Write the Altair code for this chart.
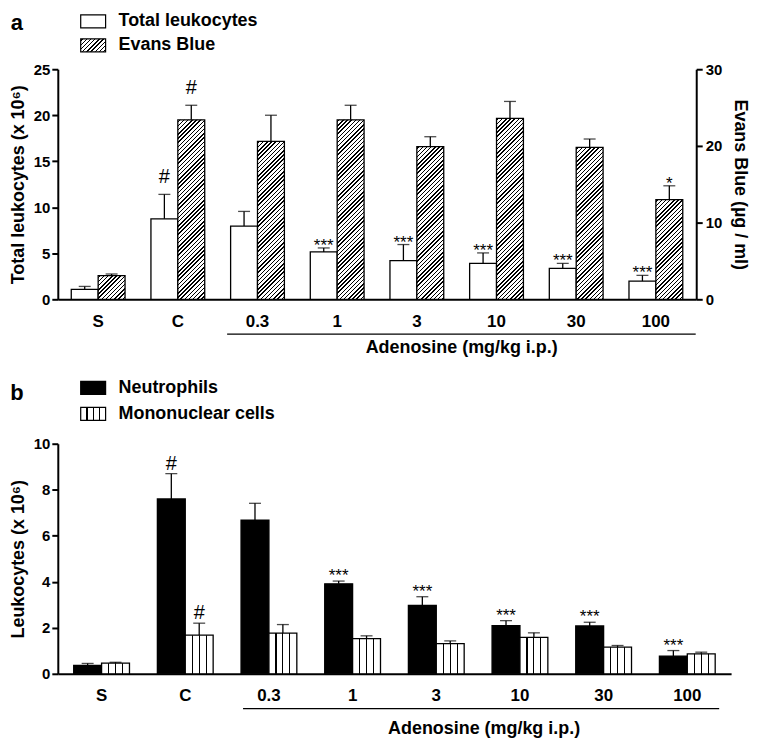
import altair as alt
import pandas as pd

# ---------------- data ----------------
groups = ["S", "C", "0.3", "1", "3", "10", "30", "100"]
dose_title = "Adenosine (mg/kg i.p.)"
panel_labels = ["a", "b"]

series_a = ["Total leukocytes", "Evans Blue"]
total_leukocytes = [1.08, 8.75, 7.96, 5.15, 4.2, 3.9, 3.35, 1.98]
total_leukocytes_top = [1.4, 11.4, 9.55, 5.58, 5.95, 5.04, 3.9, 2.6]
total_leukocytes_sig = ["", "#", "", "***", "***", "***", "***", "***"]
evans_blue = [3.1, 23.4, 20.6, 23.4, 19.9, 23.6, 19.8, 13.0]
evans_blue_top = [3.3, 25.3, 24.0, 25.3, 21.2, 25.8, 20.9, 14.8]
evans_blue_sig = ["", "#", "", "", "", "", "", "*"]

series_b = ["Neutrophils", "Mononuclear cells"]
neutrophils = [0.37, 7.6, 6.68, 3.91, 2.97, 2.09, 2.08, 0.77]
neutrophils_top = [0.45, 8.7, 7.41, 4.03, 3.35, 2.31, 2.24, 1.01]
neutrophils_sig = ["", "#", "", "***", "***", "***", "***", "***"]
mononuclear = [0.46, 1.68, 1.77, 1.53, 1.31, 1.58, 1.16, 0.87]
mononuclear_top = [0.5, 2.2, 2.14, 1.65, 1.43, 1.78, 1.23, 0.94]
mononuclear_sig = ["", "#", "", "", "", "", "", ""]

y_a_left_title = "Total leukocytes (x 10\u2076)"
y_a_right_title = "Evans Blue (\u00b5g / ml)"
y_b_title = "Leukocytes (x 10\u2076)"

# ---------------- styles ----------------
FONT = "Liberation Sans"
W_A, H_A = 641, 231
W_B, H_B = 676, 231
PI_A, PO_A = 0.325, 0.169
PI_B, PO_B = 1 / 3, 0.19
LW = 1.3

step_a = W_A / (len(groups) - PI_A + 2 * PO_A)
sub_a = step_a * (1 - PI_A) / 2
step_b = W_B / (len(groups) - PI_B + 2 * PO_B)
sub_b = step_b * (1 - PI_B) / 2


def frame(series, vals, tops, sig):
    return pd.DataFrame({"group": groups, "series": series, "value": vals,
                         "top": tops, "sig": sig})


df_total = frame(series_a[0], total_leukocytes, total_leukocytes_top, total_leukocytes_sig)
df_evans = frame(series_a[1], evans_blue, evans_blue_top, evans_blue_sig)
df_neut = frame(series_b[0], neutrophils, neutrophils_top, neutrophils_sig)
df_mono = frame(series_b[1], mononuclear, mononuclear_top, mononuclear_sig)


def diag_hatch(w, h, spacing=4.2, lw=1.5):
    L = w + h
    k = L / (w * w + h * h)
    stops = [{"offset": 0, "color": "white"}]
    c = spacing / 2
    while c + lw / 2 < L:
        a = round((c - lw / 2) / L, 5)
        b = round((c + lw / 2) / L, 5)
        stops += [{"offset": a, "color": "white"}, {"offset": a, "color": "black"},
                  {"offset": b, "color": "black"}, {"offset": b, "color": "white"}]
        c += spacing
    stops.append({"offset": 1, "color": "white"})
    return {"gradient": "linear", "x1": 0, "y1": 0,
            "x2": round(k * w, 5), "y2": round(k * h, 5), "stops": stops}


def vstripes(w, n=4, lw=1.2):
    stops = [{"offset": 0, "color": "white"}]
    for i in range(1, n):
        c = i / n
        a = round(c - lw / 2 / w, 5)
        b = round(c + lw / 2 / w, 5)
        stops += [{"offset": a, "color": "white"}, {"offset": a, "color": "black"},
                  {"offset": b, "color": "black"}, {"offset": b, "color": "white"}]
    stops.append({"offset": 1, "color": "white"})
    return {"gradient": "linear", "x1": 0, "y1": 0, "x2": 1, "y2": 0, "stops": stops}


def x_scale(pi, po):
    return alt.Scale(type="band", domain=groups, paddingInner=pi, paddingOuter=po)


def x_enc(pi, po, show=False):
    if show:
        axis = alt.Axis(title=None, labelAngle=0, ticks=False, tickSize=0, labelPadding=14,
                        labelFontSize=17, labelFont=FONT, labelFontWeight="bold",
                        labelColor="black", domainColor="black", domainWidth=2)
        return alt.X("group:N", scale=x_scale(pi, po), axis=axis)
    return alt.X("group:N", scale=x_scale(pi, po), title=None)


def xo_enc(series):
    return alt.XOffset("series:N", scale=alt.Scale(type="band", domain=series,
                                                     paddingInner=0, paddingOuter=0))


def y_axis(title, values, every, orient="left", label_pad=2, title_pad=6):
    test = f"datum.value % {every} == 0"
    return alt.Axis(title=title, orient=orient, values=values, format="d",
                    labelExpr=f"{test} ? datum.label : ''",
                    tickSize={"condition": {"test": test, "value": 6}, "value": 3.5},
                    labelPadding=label_pad, titlePadding=title_pad, tickWidth=2,
                    domainWidth=2, labelFontSize=15, titleFontSize=18)


ys_a_left = alt.Scale(domain=[0, 25], nice=False)
ys_a_right = alt.Scale(domain=[0, 30], nice=False)
ys_b = alt.Scale(domain=[0, 10], nice=False)


def y_plain(field, ys, title):
    return alt.Y(field, scale=ys, title=title)


def whiskers(df, xe, xo, ys, title):
    rule = alt.Chart(df).mark_rule(color="black", strokeWidth=LW).encode(
        x=xe, xOffset=xo, y=y_plain("value:Q", ys, title), y2="top:Q")
    cap = alt.Chart(df).mark_tick(color="black", thickness=LW, size=12, orient="horizontal").encode(
        x=xe, xOffset=xo, y=y_plain("top:Q", ys, title))
    return [rule, cap]


def sig_marks(df, xe, xo, ys, title, hash_dy, star_dy):
    base = alt.Chart(df).encode(x=xe, xOffset=xo, y=y_plain("top:Q", ys, title), text="sig:N")
    hashes = base.transform_filter(alt.FieldEqualPredicate(field="sig", equal="#")).mark_text(
        font=FONT, fontSize=20, baseline="alphabetic", dy=hash_dy, color="black")
    stars = base.transform_filter(alt.FieldOneOfPredicate(field="sig", oneOf=["*", "***"])).mark_text(
        font=FONT, fontSize=17, baseline="alphabetic", dy=star_dy, color="black")
    return [hashes, stars]


def legend_entries(names, fills, rows, x0=23, w=25, hgt=13, gap=13):
    """Key drawn as a swatch plus a bold label for each series."""
    layers = []
    for name, fill, yc in zip(names, fills, rows):
        df = pd.DataFrame({"label": [name]})
        layers.append(alt.Chart(df).mark_rect(fill=fill, stroke="black", strokeWidth=1.2).encode(
            x=alt.value(x0), x2=alt.value(x0 + w), y=alt.value(yc - hgt / 2), y2=alt.value(yc + hgt / 2)))
        layers.append(alt.Chart(df).mark_text(
            align="left", baseline="middle", font=FONT, fontSize=18, fontWeight="bold",
            color="black").encode(x=alt.value(x0 + w + gap), y=alt.value(yc), text="label:N"))
    return layers


def decorations(pi, po, h, start_off, end_off, mid_dx, line_dy, text_dy, label, lab_y):
    bracket = alt.Chart(pd.DataFrame({"t": [dose_title]})).mark_rule(
        color="black", strokeWidth=1.3, xOffset=start_off, x2Offset=end_off).encode(
        x=alt.X(datum="0.3", bandPosition=0, scale=x_scale(pi, po), title=None),
        x2=alt.X2(datum="100", bandPosition=1),
        y=alt.value(h + line_dy))
    txt = alt.Chart(pd.DataFrame({"t": [dose_title]})).mark_text(
        font=FONT, fontSize=18, fontWeight="bold", baseline="middle", color="black",
        dx=mid_dx).encode(
        x=alt.X(datum="3", bandPosition=1, scale=x_scale(pi, po), title=None),
        y=alt.value(h + text_dy), text="t:N")
    lab = alt.Chart(pd.DataFrame({"t": [label]})).mark_text(
        font=FONT, fontSize=22, fontWeight="bold", baseline="middle", color="black").encode(
        x=alt.value(-41), y=alt.value(lab_y), text="t:N")
    return [bracket, txt, lab]


# ---------------- panel a ----------------
xa = x_enc(PI_A, PO_A)
xoa = xo_enc(series_a)

bars_total = alt.Chart(df_total).mark_bar(fill="white", stroke="black", strokeWidth=LW).encode(
    x=x_enc(PI_A, PO_A, show=True), xOffset=xoa,
    y=alt.Y("value:Q", scale=ys_a_left,
            axis=y_axis(y_a_left_title, [i * 2.5 for i in range(11)], 5)))

left_a = alt.layer(
    bars_total,
    *whiskers(df_total, xa, xoa, ys_a_left, y_a_left_title),
    *sig_marks(df_total, xa, xoa, ys_a_left, y_a_left_title, -11, 3),
    *legend_entries(series_a, ["white", diag_hatch(25, 13)], [-48, -24]),
    *decorations(PI_A, PO_A, H_A, -3.5, 13, 18, 35, 49, panel_labels[0], -46),
)

evans_bars = []
for i, g in enumerate(groups):
    h = evans_blue[i] / 30 * H_A
    y_enc = (alt.Y("value:Q", scale=ys_a_right,
                   axis=y_axis(y_a_right_title, [0, 5, 10, 15, 20, 25, 30], 10,
                               orient="right", label_pad=3, title_pad=9))
             if i == 0 else y_plain("value:Q", ys_a_right, y_a_right_title))
    evans_bars.append(
        alt.Chart(df_evans).transform_filter(alt.FieldEqualPredicate(field="group", equal=g))
        .mark_bar(fill=diag_hatch(sub_a, h), stroke="black", strokeWidth=LW)
        .encode(x=xa, xOffset=xoa, y=y_enc))

right_a = alt.layer(
    *evans_bars,
    *whiskers(df_evans, xa, xoa, ys_a_right, y_a_right_title),
    *sig_marks(df_evans, xa, xoa, ys_a_right, y_a_right_title, -11, 3),
)

panel_a = alt.layer(left_a, right_a).resolve_scale(y="independent").properties(width=W_A, height=H_A)

# ---------------- panel b ----------------
xb = x_enc(PI_B, PO_B)
xob = xo_enc(series_b)

bars_neut = alt.Chart(df_neut).mark_bar(fill="black", stroke="black", strokeWidth=LW).encode(
    x=x_enc(PI_B, PO_B, show=True), xOffset=xob,
    y=alt.Y("value:Q", scale=ys_b, axis=y_axis(y_b_title, list(range(11)), 2)))
bars_mono = alt.Chart(df_mono).mark_bar(fill=vstripes(sub_b), stroke="black", strokeWidth=LW).encode(
    x=xb, xOffset=xob, y=y_plain("value:Q", ys_b, y_b_title))

panel_b = alt.layer(
    bars_neut, bars_mono,
    *whiskers(df_neut, xb, xob, ys_b, y_b_title),
    *whiskers(df_mono, xb, xob, ys_b, y_b_title),
    *sig_marks(df_neut, xb, xob, ys_b, y_b_title, -4, 0),
    *sig_marks(df_mono, xb, xob, ys_b, y_b_title, -4, 0),
    *legend_entries(series_b, ["black", vstripes(25)], [-56, -30]),
    *decorations(PI_B, PO_B, H_B, 2, 4, 20, 35, 55, panel_labels[1], -51),
).properties(width=W_B, height=H_B)

chart = alt.vconcat(panel_a, panel_b, spacing=22).resolve_scale(
    xOffset="independent"
).properties(padding={"left": 1, "top": 3, "right": 4, "bottom": 1}).configure_view(
    stroke=None
).configure_axis(
    grid=False, domainColor="black", tickColor="black", labelColor="black", titleColor="black",
    labelFont=FONT, titleFont=FONT, labelFontWeight="bold", titleFontWeight="bold",
)

chart.save("out.html", embed_options={"renderer": "svg", "actions": False})
